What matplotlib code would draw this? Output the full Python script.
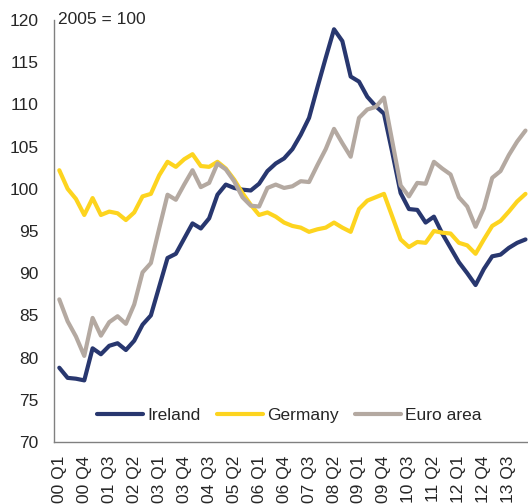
import matplotlib
matplotlib.use("Agg")
import matplotlib.pyplot as plt
import numpy as np

plt.rcParams['font.family'] = ['Liberation Sans', 'DejaVu Sans']

years = list(range(2000, 2015))
quarters = [f"{y % 100:02d} Q{q}" for y in years for q in range(1, 5)][:57]

ireland = [78.8, 77.6, 77.5, 77.3, 81.1, 80.4, 81.4, 81.7, 80.9, 82.0,
           83.9, 85.0, 88.4, 91.8, 92.3, 94.1, 95.9, 95.3, 96.5, 99.3,
           100.5, 100.1, 99.9, 99.8, 100.6, 102.1, 103.0, 103.6, 104.7, 106.4,
           108.4, 112.0, 115.5, 118.9, 117.5, 113.3, 112.7, 110.9, 109.8, 108.9,
           104.3, 99.5, 97.6, 97.5, 96.0, 96.7, 94.7, 93.0, 91.3, 90.0,
           88.6, 90.5, 92.0, 92.2, 93.0, 93.6, 94.0]
germany = [102.2, 100.0, 98.8, 96.9, 98.9, 96.9, 97.3, 97.1, 96.3, 97.2,
           99.1, 99.4, 101.6, 103.2, 102.6, 103.5, 104.1, 102.7, 102.6, 103.2,
           102.4, 101.1, 99.5, 98.1, 96.9, 97.2, 96.7, 96.0, 95.6, 95.4,
           94.9, 95.2, 95.4, 96.0, 95.4, 94.9, 97.6, 98.6, 99.0, 99.4,
           96.7, 94.0, 93.1, 93.7, 93.6, 95.0, 94.8, 94.7, 93.6, 93.3,
           92.3, 94.0, 95.6, 96.2, 97.3, 98.5, 99.4]
euro_area = [86.9, 84.3, 82.5, 80.2, 84.7, 82.6, 84.2, 84.9, 84.0, 86.3,
             90.1, 91.2, 95.3, 99.3, 98.7, 100.5, 102.2, 100.2, 100.7, 103.0,
             102.3, 100.9, 99.0, 98.0, 97.9, 100.1, 100.5, 100.1, 100.3, 100.9,
             100.8, 102.8, 104.7, 107.1, 105.4, 103.8, 108.4, 109.4, 109.7, 110.8,
             105.6, 100.4, 99.1, 100.7, 100.6, 103.2, 102.4, 101.7, 99.0, 97.9,
             95.5, 97.7, 101.3, 102.1, 104.0, 105.6, 106.9]

series_names = ["Ireland", "Germany", "Euro area"]
colors = ["#28376F", "#FDD41F", "#B4A9A1"]
y_ticks = [70, 75, 80, 85, 90, 95, 100, 105, 110, 115, 120]

fig = plt.figure(figsize=(5.28, 5.04), dpi=100)
ax = fig.add_axes([54.3 / 528, 62 / 504, (528 - 54.3) / 528, 422 / 504])

x = np.arange(len(quarters))
for data, name, c in zip([ireland, germany, euro_area], series_names, colors):
    ax.plot(x, data, color=c, lw=3.0, label=name,
            solid_joinstyle='round', solid_capstyle='round')

ax.set_ylim(70, 120)
ax.set_xlim(-0.6, 56.3)
ax.set_yticks(y_ticks)
ax.set_xticks(x[::3])
ax.set_xticklabels([quarters[i] for i in range(0, len(quarters), 3)], rotation=90)

txt_color = "#262626"
ax.tick_params(axis='y', length=0, pad=11.5, labelsize=12.5, colors=txt_color)
ax.tick_params(axis='x', length=0, pad=10, labelsize=12.5, colors=txt_color)
for lab in ax.get_xticklabels():
    lab.set_verticalalignment('top')

for s in ['top', 'right']:
    ax.spines[s].set_visible(False)
for s in ['left', 'bottom']:
    ax.spines[s].set_color('#808080')
    ax.spines[s].set_linewidth(1.0)

ax.text(58.3 / 528, 20 / 504, "", transform=fig.transFigure)
fig.text(58.3 / 528, 1 - 20 / 504, "2005 = 100", fontsize=12.5, color=txt_color,
         va='center', ha='left')

leg = ax.legend(loc='center left', bbox_to_anchor=((97 - 54.3) / 473.7, 27 / 422),
                ncol=3, frameon=False, fontsize=12.5, handlelength=2.65,
                handletextpad=0.25, columnspacing=0.92, borderpad=0,
                borderaxespad=0, labelcolor=txt_color)
for h in leg.get_lines():
    h.set_linewidth(3.0)

fig.savefig("out.png", dpi=100)
